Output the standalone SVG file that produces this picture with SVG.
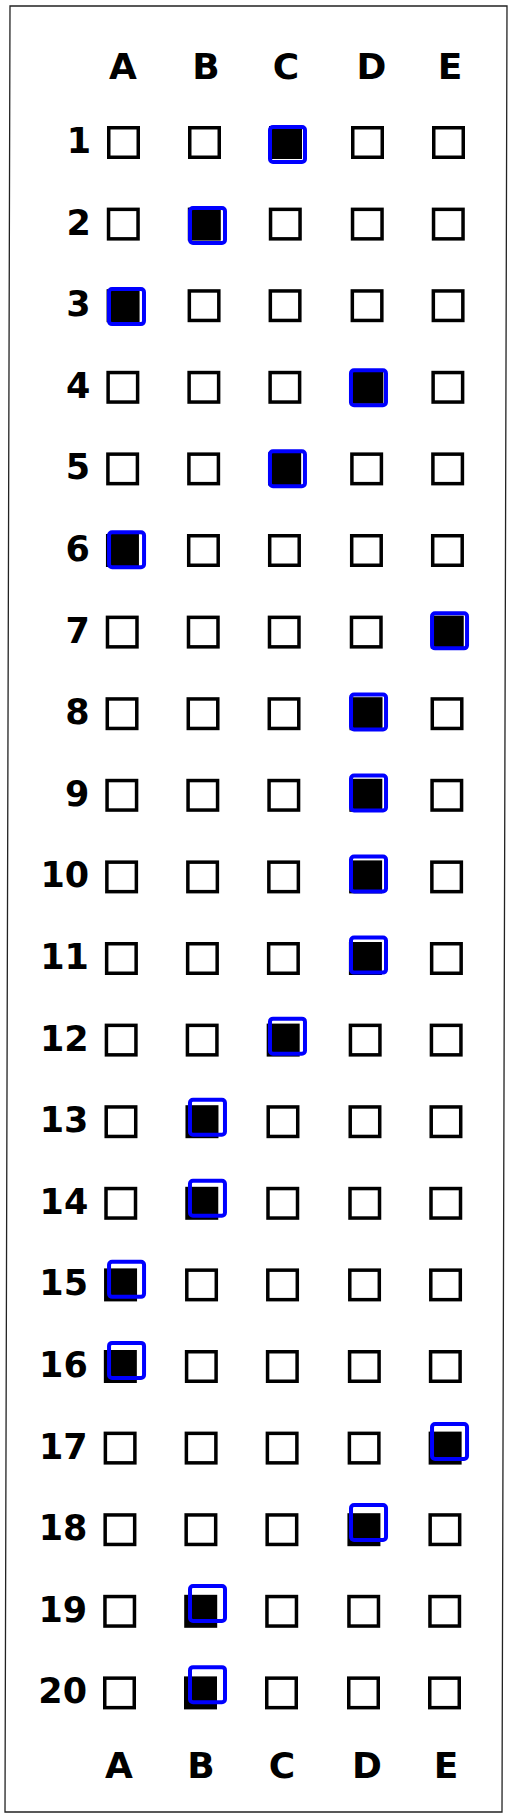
<svg xmlns="http://www.w3.org/2000/svg" xmlns:xlink="http://www.w3.org/1999/xlink" width="513" height="1819" viewBox="0 0 513 1819">
<style>
.t{font-family:"DejaVu Sans","Liberation Sans",sans-serif;font-weight:bold;fill:#000}
.h{font-size:36px;text-anchor:middle}
.n{font-size:35px;text-anchor:end}
.b{fill:none;stroke:#000;stroke-width:3.5}
.f{fill:#000}
.m{fill:none;stroke:#0000ff;stroke-width:4}
</style>
<defs>
<rect id="bx" x="1.75" y="1.75" width="29.5" height="29.5" class="b"/>
<rect id="fx" x="0" y="0" width="33" height="33" class="f"/>
<rect id="mk" x="0" y="0" width="35" height="35" rx="3" class="m"/>
</defs>
<rect width="513" height="1819" fill="#fff"/>
<polygon id="frame" points="10,6 507,6 502,1812 5,1812" fill="none" stroke="#222" stroke-width="1.3"/>
<g id="header-top" class="t h">
<text x="123" y="79">A</text><text x="206" y="79">B</text><text x="286" y="79">C</text><text x="371.5" y="79">D</text><text x="450" y="79">E</text>
</g>
<g id="header-bottom" class="t h">
<text x="119" y="1778">A</text><text x="201" y="1778">B</text><text x="282" y="1778">C</text><text x="367" y="1778">D</text><text x="446" y="1778">E</text>
</g>
<g id="connectors"/>
<g id="row1" transform="translate(0,126)"><text class="t n" x="91" y="27">1</text><use href="#bx" x="107"/><use href="#bx" x="188"/><use href="#fx" x="269"/><use href="#bx" x="351"/><use href="#bx" x="432"/><use href="#mk" x="270" y="1"/></g>
<g id="row2" transform="translate(-0.21,207.6)"><text class="t n" x="91" y="27">2</text><use href="#bx" x="107"/><use href="#fx" x="188"/><use href="#bx" x="269"/><use href="#bx" x="351"/><use href="#bx" x="432"/><use href="#mk" x="190.2" y="0.46"/></g>
<g id="row3" transform="translate(-0.42,289.2)"><text class="t n" x="91" y="27">3</text><use href="#fx" x="107"/><use href="#bx" x="188"/><use href="#bx" x="269"/><use href="#bx" x="351"/><use href="#bx" x="432"/><use href="#mk" x="109.4" y="-0.08"/></g>
<g id="row4" transform="translate(-0.63,370.8)"><text class="t n" x="91" y="27">4</text><use href="#bx" x="107"/><use href="#bx" x="188"/><use href="#bx" x="269"/><use href="#fx" x="351"/><use href="#bx" x="432"/><use href="#mk" x="351.6" y="-0.62"/></g>
<g id="row5" transform="translate(-0.84,452.4)"><text class="t n" x="91" y="27">5</text><use href="#bx" x="107"/><use href="#bx" x="188"/><use href="#fx" x="269"/><use href="#bx" x="351"/><use href="#bx" x="432"/><use href="#mk" x="270.8" y="-1.16"/></g>
<g id="row6" transform="translate(-1.05,534)"><text class="t n" x="91" y="27">6</text><use href="#fx" x="107"/><use href="#bx" x="188"/><use href="#bx" x="269"/><use href="#bx" x="351"/><use href="#bx" x="432"/><use href="#mk" x="110.1" y="-1.7"/></g>
<g id="row7" transform="translate(-1.26,615.6)"><text class="t n" x="91" y="27">7</text><use href="#bx" x="107"/><use href="#bx" x="188"/><use href="#bx" x="269"/><use href="#bx" x="351"/><use href="#fx" x="432"/><use href="#mk" x="433.3" y="-2.24"/></g>
<g id="row8" transform="translate(-1.47,697.2)"><text class="t n" x="91" y="27">8</text><use href="#bx" x="107"/><use href="#bx" x="188"/><use href="#bx" x="269"/><use href="#fx" x="351"/><use href="#bx" x="432"/><use href="#mk" x="352.5" y="-2.78"/></g>
<g id="row9" transform="translate(-1.68,778.8)"><text class="t n" x="91" y="27">9</text><use href="#bx" x="107"/><use href="#bx" x="188"/><use href="#bx" x="269"/><use href="#fx" x="351"/><use href="#bx" x="432"/><use href="#mk" x="352.7" y="-3.32"/></g>
<g id="row10" transform="translate(-1.89,860.4)"><text class="t n" x="91" y="27">10</text><use href="#bx" x="107"/><use href="#bx" x="188"/><use href="#bx" x="269"/><use href="#fx" x="351"/><use href="#bx" x="432"/><use href="#mk" x="352.9" y="-3.86"/></g>
<g id="row11" transform="translate(-2.1,942)"><text class="t n" x="91" y="27">11</text><use href="#bx" x="107"/><use href="#bx" x="188"/><use href="#bx" x="269"/><use href="#fx" x="351"/><use href="#bx" x="432"/><use href="#mk" x="353.1" y="-4.4"/></g>
<g id="row12" transform="translate(-2.32,1023.6)"><text class="t n" x="91" y="27">12</text><use href="#bx" x="107"/><use href="#bx" x="188"/><use href="#fx" x="269"/><use href="#bx" x="351"/><use href="#bx" x="432"/><use href="#mk" x="272.3" y="-4.94"/></g>
<g id="row13" transform="translate(-2.53,1105.2)"><text class="t n" x="91" y="27">13</text><use href="#bx" x="107"/><use href="#fx" x="188"/><use href="#bx" x="269"/><use href="#bx" x="351"/><use href="#bx" x="432"/><use href="#mk" x="192.5" y="-5.48"/></g>
<g id="row14" transform="translate(-2.74,1186.8)"><text class="t n" x="91" y="27">14</text><use href="#bx" x="107"/><use href="#fx" x="188"/><use href="#bx" x="269"/><use href="#bx" x="351"/><use href="#bx" x="432"/><use href="#mk" x="192.7" y="-6.02"/></g>
<g id="row15" transform="translate(-2.95,1268.4)"><text class="t n" x="91" y="27">15</text><use href="#fx" x="107"/><use href="#bx" x="188"/><use href="#bx" x="269"/><use href="#bx" x="351"/><use href="#bx" x="432"/><use href="#mk" x="112" y="-6.56"/></g>
<g id="row16" transform="translate(-3.16,1350)"><text class="t n" x="91" y="27">16</text><use href="#fx" x="107"/><use href="#bx" x="188"/><use href="#bx" x="269"/><use href="#bx" x="351"/><use href="#bx" x="432"/><use href="#mk" x="112.2" y="-7.1"/></g>
<g id="row17" transform="translate(-3.37,1431.6)"><text class="t n" x="91" y="27">17</text><use href="#bx" x="107"/><use href="#bx" x="188"/><use href="#bx" x="269"/><use href="#bx" x="351"/><use href="#fx" x="432"/><use href="#mk" x="435.4" y="-7.64"/></g>
<g id="row18" transform="translate(-3.58,1513.2)"><text class="t n" x="91" y="27">18</text><use href="#bx" x="107"/><use href="#bx" x="188"/><use href="#bx" x="269"/><use href="#fx" x="351"/><use href="#bx" x="432"/><use href="#mk" x="354.6" y="-8.18"/></g>
<g id="row19" transform="translate(-3.79,1594.8)"><text class="t n" x="91" y="27">19</text><use href="#bx" x="107"/><use href="#fx" x="188"/><use href="#bx" x="269"/><use href="#bx" x="351"/><use href="#bx" x="432"/><use href="#mk" x="193.8" y="-8.72"/></g>
<g id="row20" transform="translate(-4,1676.4)"><text class="t n" x="91" y="27">20</text><use href="#bx" x="107"/><use href="#fx" x="188"/><use href="#bx" x="269"/><use href="#bx" x="351"/><use href="#bx" x="432"/><use href="#mk" x="194" y="-9.26"/></g>
</svg>
